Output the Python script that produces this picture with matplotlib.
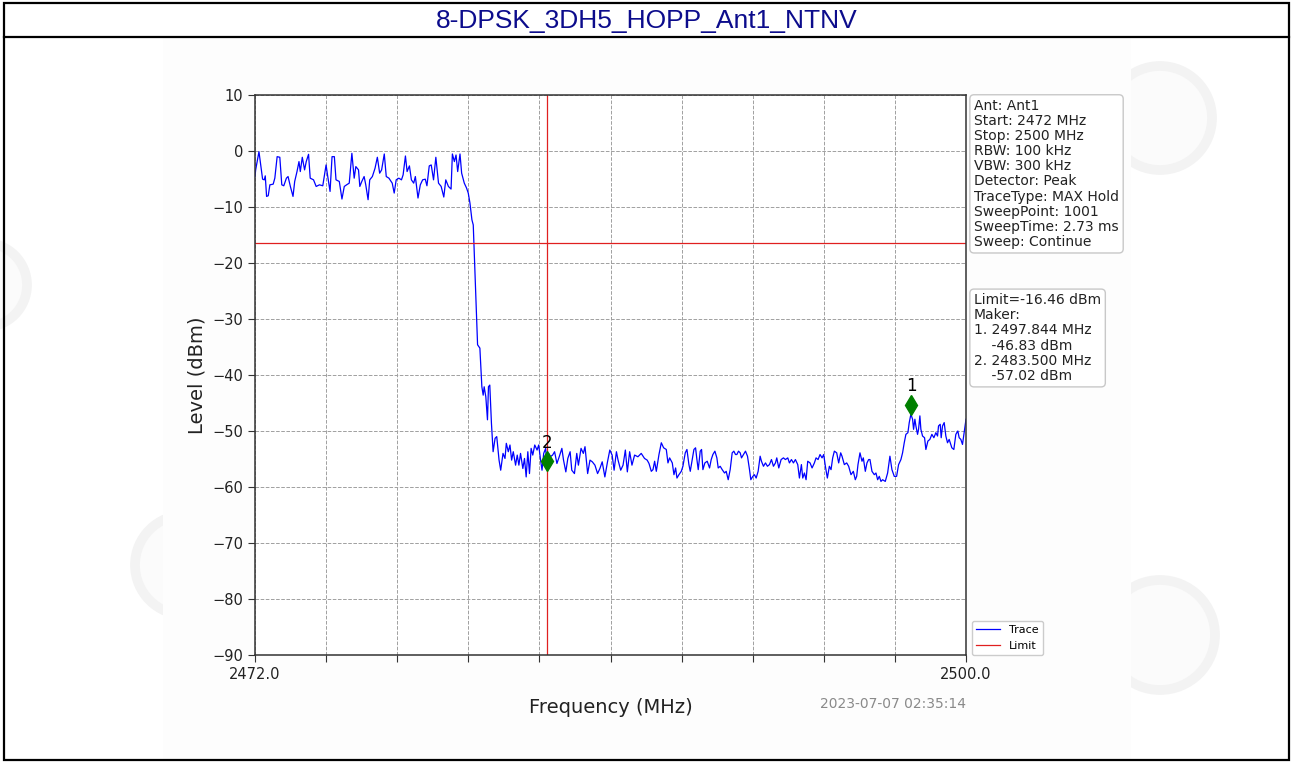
import numpy as np
import matplotlib.pyplot as plt
from matplotlib.patches import Rectangle, Circle

# ---- chart data -------------------------------------------------------
title = "8-DPSK_3DH5_HOPP_Ant1_NTNV"
start_mhz = 2472.0
stop_mhz = 2500.0
limit_dbm = -16.46
timestamp = "2023-07-07 02:35:14"

# trace (MHz, dBm)
trace_freq = [
    2472.000, 2472.026, 2472.156, 2472.234, 2472.299, 2472.365, 2472.404, 2472.456, 2472.521, 2472.586,
    2472.716, 2472.781, 2472.872, 2472.977, 2473.055, 2473.133, 2473.237, 2473.302, 2473.393, 2473.497,
    2473.563, 2473.654, 2473.732, 2473.784, 2473.862, 2473.953, 2474.018, 2474.109, 2474.174, 2474.305,
    2474.409, 2474.539, 2474.669, 2474.799, 2474.865, 2474.956, 2475.034, 2475.125, 2475.190, 2475.320,
    2475.424, 2475.516, 2475.607, 2475.711, 2475.815, 2475.906, 2475.971, 2476.076, 2476.128, 2476.206,
    2476.297, 2476.362, 2476.453, 2476.518, 2476.622, 2476.727, 2476.818, 2476.909, 2476.987, 2477.091,
    2477.169, 2477.273, 2477.404, 2477.482, 2477.560, 2477.664, 2477.768, 2477.833, 2477.924, 2477.990,
    2478.081, 2478.159, 2478.250, 2478.315, 2478.419, 2478.510, 2478.602, 2478.706, 2478.771, 2478.862,
    2478.940, 2479.031, 2479.122, 2479.227, 2479.331, 2479.435, 2479.513, 2479.617, 2479.721, 2479.773,
    2479.852, 2479.917, 2479.982, 2480.073, 2480.138, 2480.242, 2480.333, 2480.398,
    # roll-off
    2480.465, 2480.543, 2480.595, 2480.673, 2480.765, 2480.856, 2480.934, 2480.986, 2481.025, 2481.090,
    2481.155, 2481.194, 2481.246, 2481.311, 2481.377, 2481.455, 2481.520, 2481.611, 2481.676, 2481.767,
    # noise floor
    2481.845, 2481.897, 2481.975, 2482.041, 2482.106, 2482.171, 2482.262, 2482.327, 2482.392, 2482.457,
    2482.548, 2482.613, 2482.679, 2482.744, 2482.809, 2482.874, 2482.939, 2483.017, 2483.108, 2483.173,
    2483.238, 2483.303, 2483.369, 2483.447, 2483.499, 2483.564, 2483.629, 2483.720, 2483.798, 2483.890,
    2483.981, 2484.085, 2484.150, 2484.241, 2484.319, 2484.410, 2484.475, 2484.580, 2484.671, 2484.736,
    2484.840, 2484.931, 2484.996, 2485.100, 2485.192, 2485.283, 2485.387, 2485.491, 2485.582, 2485.673,
    2485.778, 2485.882, 2485.973, 2486.064, 2486.142, 2486.233, 2486.298, 2486.402, 2486.494, 2486.585,
    2486.663, 2486.754, 2486.845, 2486.949, 2487.079, 2487.210, 2487.340, 2487.444,
    2487.516, 2487.607, 2487.673, 2487.738, 2487.804, 2487.909, 2488.001, 2488.092, 2488.197, 2488.263,
    2488.328, 2488.433, 2488.499, 2488.564, 2488.617, 2488.695, 2488.787, 2488.852, 2488.944, 2489.010,
    2489.088, 2489.141, 2489.219, 2489.285, 2489.350, 2489.403, 2489.455, 2489.534, 2489.586, 2489.639,
    2489.717, 2489.809, 2489.901, 2489.966, 2490.032, 2490.111, 2490.189, 2490.242, 2490.320, 2490.399,
    2490.491, 2490.556, 2490.635, 2490.713, 2490.792, 2490.858, 2490.923, 2490.976, 2491.041, 2491.107,
    2491.159, 2491.238, 2491.316, 2491.395, 2491.474, 2491.526, 2491.605, 2491.670, 2491.736, 2491.814,
    2491.893, 2491.945, 2492.024, 2492.103, 2492.181, 2492.260, 2492.339, 2492.417, 2492.496, 2492.548,
    2492.627, 2492.719, 2492.810, 2492.889, 2492.981, 2493.046, 2493.125, 2493.204, 2493.282, 2493.374,
    2493.440, 2493.518, 2493.571, 2493.636, 2493.702, 2493.767, 2493.859, 2493.938, 2494.029, 2494.095,
    2494.174, 2494.252, 2494.331, 2494.396, 2494.462, 2494.540, 2494.619, 2494.685, 2494.750, 2494.816,
    2494.908, 2494.986, 2495.065, 2495.117, 2495.209, 2495.301, 2495.379, 2495.471, 2495.563, 2495.641,
    2495.694, 2495.746, 2495.825, 2495.904, 2495.956, 2496.035, 2496.100, 2496.166, 2496.218, 2496.297,
    2496.389, 2496.454, 2496.520, 2496.585, 2496.651, 2496.716, 2496.821, 2496.913, 2497.004, 2497.083,
    2497.175, 2497.267, 2497.345, 2497.437, 2497.502, 2497.568, 2497.633, 2497.712, 2497.765, 2497.830,
    2497.896, 2497.935, 2497.987, 2498.027, 2498.092, 2498.131, 2498.184, 2498.223, 2498.289, 2498.368,
    2498.420, 2498.499, 2498.577, 2498.656, 2498.734, 2498.813, 2498.879, 2498.918, 2498.984, 2499.023,
    2499.075, 2499.141, 2499.206, 2499.272, 2499.337, 2499.442, 2499.521, 2499.600, 2499.678, 2499.731,
    2499.796, 2499.862, 2500.000,
]
trace_level = [
    -4.56, -3.37, -0.12, -2.78, -5.03, -5.15, -4.44, -8.11, -7.99, -6.04,
    -5.92, -4.85, -1.01, -1.12, -6.04, -6.21, -4.85, -4.56, -6.33, -8.11,
    -5.44, -3.67, -1.89, -3.67, -1.12, -3.37, -1.89, -0.59, -4.85, -5.15,
    -6.33, -6.04, -6.21, -2.49, -4.56, -7.22, -1.01, -1.01, -5.15, -5.44,
    -8.58, -6.33, -6.04, -5.74, -0.41, -4.85, -2.78, -3.37, -6.33, -5.44,
    -4.56, -6.04, -8.70, -5.15, -4.56, -3.08, -1.12, -3.96, -3.37, -0.53,
    -4.56, -4.85, -5.74, -7.51, -5.15, -4.85, -5.15, -4.26, -0.89, -3.67,
    -2.66, -5.15, -5.74, -4.56, -8.40, -6.04, -5.15, -5.03, -6.21, -2.66,
    -2.49, -5.15, -1.12, -5.74, -6.33, -8.22, -5.15, -6.33, -6.80, -0.53,
    -1.89, -0.71, -3.67, -0.53, -3.96, -5.74, -6.63, -7.51,
    # roll-off
    -9.3, -12.3, -13.2, -23.0, -34.6, -35.2, -42.1, -43.6, -42.1, -43.9,
    -48.0, -42.1, -41.8, -48.6, -53.7, -51.3, -51.0, -55.2, -57.0, -54.0,
    # noise floor
    -54.9, -52.2, -53.7, -52.5, -55.2, -53.7, -56.1, -54.3, -56.1, -54.0,
    -56.7, -54.9, -58.2, -53.7, -57.6, -53.1, -54.3, -52.5, -53.4, -52.5,
    -54.9, -57.0, -54.0, -53.1, -56.7, -54.0, -54.6, -54.3, -53.7, -55.8,
    -54.6, -53.1, -55.2, -57.3, -54.9, -53.7, -57.0, -57.6, -54.0, -56.1,
    -53.1, -54.0, -52.8, -57.6, -55.2, -55.5, -56.1, -57.6, -56.7, -55.5,
    -58.2, -55.5, -53.4, -54.3, -57.0, -53.7, -55.2, -57.0, -56.1, -53.4,
    -57.3, -53.7, -56.1, -54.3, -54.6, -54.0, -54.9, -55.2,
    -55.8, -57.2, -56.9, -55.4, -57.2, -54.2, -52.1, -53.0, -53.3, -55.7,
    -54.8, -55.7, -57.8, -56.6, -58.4, -57.8, -57.2, -56.3, -53.9, -53.3,
    -56.0, -57.2, -55.1, -53.3, -53.0, -55.1, -56.9, -53.6, -53.3, -56.9,
    -55.7, -55.4, -56.6, -55.1, -54.2, -53.6, -54.8, -56.6, -56.3, -56.9,
    -57.5, -57.2, -58.7, -56.9, -53.9, -53.6, -54.2, -54.2, -53.6, -53.9,
    -54.8, -54.2, -53.6, -54.5, -56.9, -58.7, -58.1, -57.8, -58.4, -57.2,
    -54.5, -55.4, -56.3, -55.7, -56.3, -56.0, -55.1, -56.3, -55.7, -54.8,
    -56.6, -55.1, -54.8, -55.1, -54.8, -55.7, -55.1, -55.7, -55.1, -56.0,
    -58.4, -56.0, -58.4, -57.5, -58.7, -55.4, -55.7, -56.6, -55.7, -54.8,
    -55.1, -54.2, -54.8, -54.2, -56.3, -58.4, -56.3, -56.9, -54.8, -53.6,
    -53.9, -55.7, -53.9, -54.5, -56.0, -55.7, -56.3, -57.8, -57.2, -58.7,
    -58.1, -56.0, -53.9, -55.4, -54.8, -57.2, -55.7, -55.1, -55.1, -57.2,
    -57.8, -57.5, -58.7, -58.1, -59.0, -58.7, -59.0, -57.5, -54.5, -56.9,
    -58.1, -58.1, -56.0, -55.1, -53.9, -52.1, -50.6, -50.3, -48.5, -47.0,
    -47.9, -49.7, -47.9, -49.1, -50.6, -49.7, -47.3, -49.7, -50.9, -51.2,
    -53.3, -51.8, -51.5, -50.6, -51.2, -50.3, -50.9, -49.1, -48.8, -51.2,
    -49.1, -48.5, -50.9, -52.1, -51.5, -53.0, -53.3, -50.6, -50.0, -51.2,
    -51.5, -52.4, -47.9,
]

marker_freq = [2497.844, 2483.500]
marker_level = [-45.3, -55.4]
marker_names = ["1", "2"]

info_lines = [
    "Ant: Ant1",
    "Start: 2472 MHz",
    "Stop: 2500 MHz",
    "RBW: 100 kHz",
    "VBW: 300 kHz",
    "Detector: Peak",
    "TraceType: MAX Hold",
    "SweepPoint: 1001",
    "SweepTime: 2.73 ms",
    "Sweep: Continue",
]
marker_lines = [
    "Limit=-16.46 dBm",
    "Maker:",
    "1. 2497.844 MHz",
    "    -46.83 dBm",
    "2. 2483.500 MHz",
    "    -57.02 dBm",
]

# ---- figure -----------------------------------------------------------
W, H = 1293, 763
fig = plt.figure(figsize=(W / 100, H / 100), dpi=100)
fig.patch.set_facecolor("white")

# page frame drawn in pixel units
page = fig.add_axes([0, 0, 1, 1])
page.set_xlim(0, W)
page.set_ylim(H, 0)
page.axis("off")
# faint watermark rings around the chart picture
for cx, cy, r in [(-15, 285, 42), (185, 565, 50), (1160, 118, 52), (1160, 635, 55)]:
    page.add_patch(Circle((cx, cy), r, facecolor="#fbfbfb", edgecolor="#f3f3f3", lw=7))
page.add_patch(Rectangle((163, 38), 968, 722, facecolor="#fdfdfd", edgecolor="none"))
page.add_patch(Rectangle((4, 3), 1285, 757, facecolor="none", edgecolor="black", lw=1.6))
page.plot([4, 1289], [37, 37], color="black", lw=1.6)
page.text(W / 2, 21, title, ha="center", va="center", fontsize=19,
          family="Liberation Sans", color="#0c0c8c")
page.text(966, 704, timestamp, ha="right", va="center", fontsize=10, color="#8a8a8a")

ax = fig.add_axes([255 / W, 1 - 655 / H, 711 / W, 560 / H])
ax.set_facecolor("white")

ax.plot(trace_freq, trace_level, color="blue", lw=0.9, label="Trace")
ax.axhline(limit_dbm, color="#e02020", lw=0.9, label="Limit")
ax.axvline(marker_freq[1], color="#e02020", lw=0.9)

for f, lv, name in zip(marker_freq, marker_level, marker_names):
    ax.plot(f, lv, marker="d", color="green", markersize=10, zorder=5)
    ax.annotate(name, (f, lv), xytext=(0, 7), textcoords="offset points",
                ha="center", va="bottom", fontsize=12)

ax.set_xlim(start_mhz, stop_mhz)
ax.set_ylim(-90, 10)
ax.set_xticks(np.linspace(start_mhz, stop_mhz, 11))
ax.set_xticklabels(["2472.0"] + [""] * 9 + ["2500.0"])
ax.set_yticks(np.arange(-90, 11, 10))
ax.tick_params(labelsize=10.5, length=5, color="#333333", labelcolor="#222222")
ax.grid(True, ls="--", color="#a0a0a0", lw=0.7)
for sp in ax.spines.values():
    sp.set_linewidth(1.1)
    sp.set_color("#333333")

ax.set_xlabel("Frequency (MHz)", fontsize=14, labelpad=12, color="#222222")
ax.set_ylabel("Level (dBm)", fontsize=14, color="#222222")

box = dict(boxstyle="round,pad=0.3", facecolor="white", edgecolor="#c8c8c8")
ax.text(1.0113, 0.993, "\n".join(info_lines), transform=ax.transAxes,
        ha="left", va="top", fontsize=10, linespacing=1.1, bbox=box, color="#222222")
ax.text(1.0113, 0.646, "\n".join(marker_lines), transform=ax.transAxes,
        ha="left", va="top", fontsize=10, linespacing=1.1, bbox=box, color="#222222")

ax.legend(loc="lower left", bbox_to_anchor=(1.0, -0.01), fontsize=8,
          handlelength=2.2, framealpha=1)

fig.savefig("out.png", dpi=100)
